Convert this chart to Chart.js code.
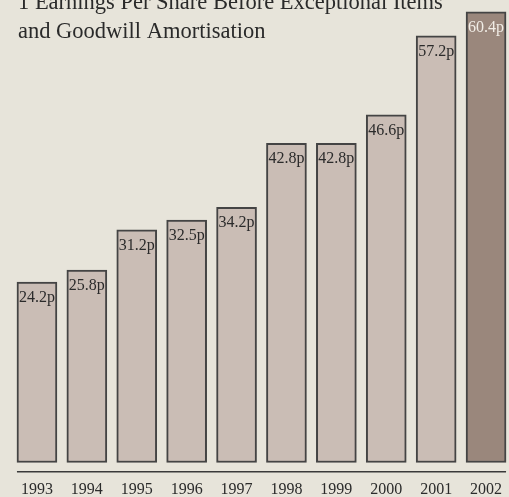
<!DOCTYPE html>
<html>
<head>
<meta charset="utf-8">
<title>Earnings Per Share</title>
<script src="https://cdn.jsdelivr.net/npm/chart.js@4/dist/chart.umd.min.js"></script>
<style>
    html, body { margin: 0; padding: 0; background: #e7e4da; overflow: hidden; }
    #eps-chart { position: absolute; left: 0; top: 0; }
</style>
</head>
<body>
<canvas id="eps-chart" width="511" height="507"></canvas>
<script>
var years = ['1993', '1994', '1995', '1996', '1997', '1998', '1999', '2000', '2001', '2002'];
var eps = [24.2, 25.8, 31.2, 32.5, 34.2, 42.8, 42.8, 46.6, 57.2, 60.4];
var valueLabels = ['24.2p', '25.8p', '31.2p', '32.5p', '34.2p', '42.8p', '42.8p', '46.6p', '57.2p', '60.4p'];
var titleLines = ['1 Earnings Per Share Before Exceptional Items', 'and Goodwill Amortisation'];

var serif = '"Liberation Serif", "DejaVu Serif", serif';
var lightBar = '#cabdb5';
var darkBar = '#9a877c';

function barColours() {
    return years.map(function (y, i) {
        return i === years.length - 1 ? darkBar : lightBar;
    });
}

// labels inside the top of each bar
var valueLabelPlugin = {
    id: 'valueLabels',
    afterDatasetsDraw: function (chart) {
        var ctx = chart.ctx;
        var bars = chart.getDatasetMeta(0).data;
        ctx.save();
        ctx.font = '16px ' + serif;
        ctx.textAlign = 'center';
        ctx.textBaseline = 'alphabetic';
        bars.forEach(function (bar, i) {
            ctx.fillStyle = i === bars.length - 1 ? '#f1ede6' : '#2b2b2b';
            ctx.fillText(valueLabels[i], bar.x, bar.y + 20);
        });
        ctx.restore();
    }
};

// base line under the bars and the heading
var decorPlugin = {
    id: 'decor',
    afterDraw: function (chart) {
        var ctx = chart.ctx;
        var bars = chart.getDatasetMeta(0).data;
        var first = bars[0];
        var last = bars[bars.length - 1];
        var area = chart.chartArea;
        ctx.save();
        ctx.strokeStyle = '#3a3a3a';
        ctx.lineWidth = 1.5;
        ctx.beginPath();
        ctx.moveTo(first.x - first.width / 2, area.bottom);
        ctx.lineTo(last.x + last.width / 2, area.bottom);
        ctx.stroke();

        ctx.fillStyle = '#2a2a2a';
        ctx.font = '22.5px ' + serif;
        ctx.textAlign = 'left';
        ctx.textBaseline = 'alphabetic';
        ctx.fillText(titleLines[0], 18, 9);
        ctx.fillText(titleLines[1], 18, 38);
        ctx.restore();
    }
};

function buildChart() {
    var ctx = document.getElementById('eps-chart').getContext('2d');
    new Chart(ctx, {
        type: 'bar',
        data: {
            labels: years,
            datasets: [{
                label: 'Earnings per share',
                data: eps,
                backgroundColor: barColours(),
                borderColor: '#444444',
                borderWidth: 2,
                borderSkipped: false,
                barThickness: 40
            }]
        },
        options: {
            responsive: false,
            animation: false,
            layout: { padding: { left: 12, right: 0, top: 0, bottom: 0 } },
            plugins: {
                legend: { display: false },
                tooltip: { enabled: false }
            },
            scales: {
                x: {
                    grid: { display: false, drawTicks: false },
                    border: { display: false },
                    ticks: {
                        color: '#2b2b2b',
                        padding: 8,
                        font: { family: serif, size: 16 }
                    }
                },
                y: {
                    display: false,
                    min: -1.25,
                    max: 62
                }
            }
        },
        plugins: [valueLabelPlugin, decorPlugin]
    });
}

buildChart();
</script>
</body>
</html>
